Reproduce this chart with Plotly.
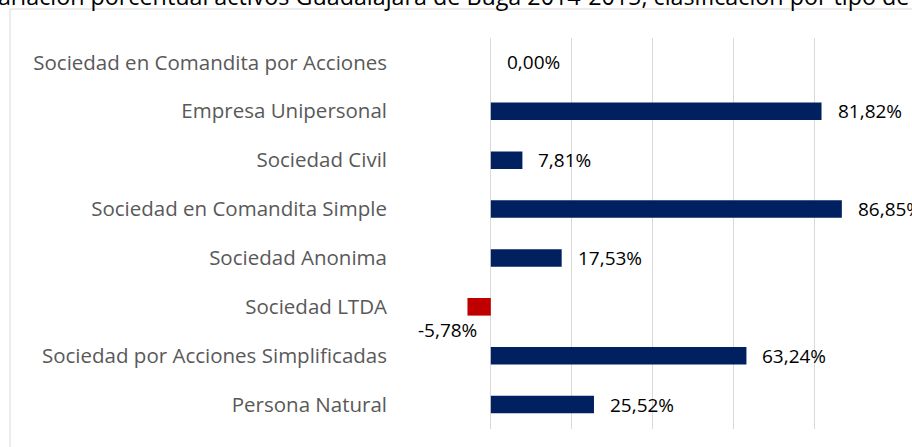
import plotly.graph_objects as go

categories = [
    "Sociedad en Comandita por Acciones",
    "Empresa Unipersonal",
    "Sociedad Civil",
    "Sociedad en Comandita Simple",
    "Sociedad Anonima",
    "Sociedad LTDA",
    "Sociedad por Acciones Simplificadas",
    "Persona Natural",
]
values = [0.00, 81.82, 7.81, 86.85, 17.53, -5.78, 63.24, 25.52]
title_text = "Variación porcentual activos Guadalajara de Buga 2014-2015, clasificación por tipo de sociedad"

POS = "#002060"
NEG = "#C00000"
FONT = "Open Sans"

colors = [NEG if v < 0 else POS for v in values]
labels = [f"{v:.2f}".replace(".", ",") + "%" for v in values]

W, H = 912, 447
ml, mr, mt, mb = 410, 17, 38, 18
pw, ph = W - ml - mr, H - mt - mb

def px_x(p):
    return (p - ml) / pw

def px_y(p):
    return (H - mb - p) / ph

fig = go.Figure(go.Bar(
    y=categories, x=values, orientation="h",
    marker=dict(color=colors, line=dict(width=0)),
    width=0.36, hoverinfo="skip",
))

for cat, v, lab in zip(categories, values, labels):
    if v < 0:
        fig.add_annotation(x=v, y=cat, text=lab, showarrow=False,
                           xanchor="right", yanchor="middle", xshift=12, yshift=-23,
                           font=dict(family=FONT, size=19, color="#000000"))
    else:
        fig.add_annotation(x=v, y=cat, text=lab, showarrow=False,
                           xanchor="left", yanchor="middle", xshift=14,
                           font=dict(family=FONT, size=19, color="#000000"))

# title (cut off at the top of the frame)
fig.add_annotation(xref="paper", yref="paper", x=px_x(-18), y=px_y(14),
                   xanchor="left", yanchor="bottom", text=title_text, showarrow=False,
                   font=dict(family=FONT, size=23.3, color="#000000"))

# chart frame
fig.add_shape(type="rect", xref="paper", yref="paper",
              x0=px_x(10), x1=px_x(930), y0=px_y(460), y1=px_y(9),
              line=dict(color="#d9d9d9", width=1), fillcolor="rgba(0,0,0,0)", layer="below")

fig.update_layout(
    width=W, height=H,
    margin=dict(l=ml, r=mr, t=mt, b=mb, pad=0),
    paper_bgcolor="white", plot_bgcolor="white",
    showlegend=False,
    font=dict(family=FONT, size=20.5, color="#595959"),
    xaxis=dict(range=[-20, 100], dtick=20, tick0=0, showgrid=True, gridcolor="#d9d9d9",
               gridwidth=1, zeroline=True, zerolinecolor="#d9d9d9", zerolinewidth=1,
               showticklabels=False, ticks="", showline=False, fixedrange=True),
    yaxis=dict(autorange="reversed", showgrid=False, ticks="", showline=False,
               ticklabelstandoff=22, tickfont=dict(family=FONT, size=20.5, color="#595959"),
               fixedrange=True),
)

fig.write_html("out.html", config={"displayModeBar": False},
               post_script="document.body.style.margin='0';document.body.style.overflow='hidden';")
